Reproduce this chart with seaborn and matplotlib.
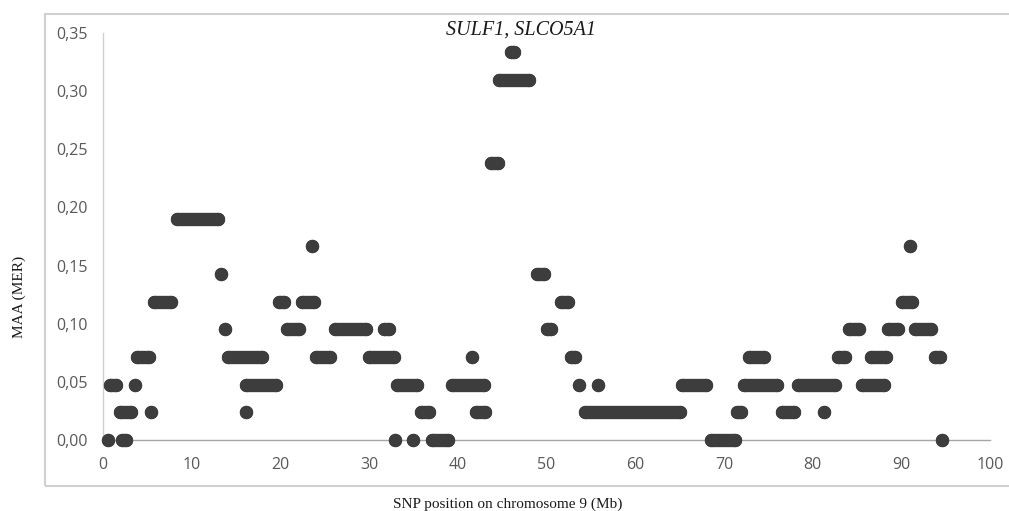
import numpy as np
import pandas as pd
import matplotlib
matplotlib.use('Agg')
import matplotlib.pyplot as plt
from matplotlib.patches import Rectangle
import seaborn as sns

# Haplotype blocks: start (Mb), end (Mb), MAA value
blk_start = [0.6, 2.1, 32.9, 34.9, 37.1, 68.5, 94.6,
             1.9, 5.4, 16.1, 35.8, 42.0, 54.3, 71.5, 76.5, 81.3,
             0.8, 3.6, 16.1, 33.2, 39.3, 53.7, 55.8, 65.3, 72.3, 78.3, 85.6,
             3.8, 14.1, 24.0, 30.0, 41.6, 52.8, 72.8, 82.9, 86.6, 93.8,
             13.7, 20.8, 26.1, 31.7, 50.1, 84.1, 88.5, 91.5,
             5.7, 19.8, 22.4, 51.6, 90.1,
             13.3, 48.9,
             23.6, 91.0,
             8.3,
             43.7,
             44.7,
             46.0]
blk_end = [0.6, 2.6, 32.9, 34.9, 38.9, 71.2, 94.6,
           3.2, 5.4, 16.1, 36.7, 43.1, 65.0, 71.9, 77.9, 81.3,
           1.5, 3.6, 19.5, 35.4, 42.9, 53.7, 55.8, 68.0, 76.0, 82.5, 88.0,
           5.2, 17.9, 25.6, 32.8, 41.6, 53.2, 74.5, 83.7, 88.3, 94.4,
           13.7, 22.1, 29.6, 32.2, 50.5, 85.2, 89.6, 93.4,
           7.7, 20.4, 23.8, 52.4, 91.2,
           13.3, 49.7,
           23.6, 91.0,
           13.0,
           44.5,
           48.0,
           46.3]
blk_maa = ([0.0] * 7 + [1 / 42] * 9 + [2 / 42] * 11 + [3 / 42] * 10 +
           [4 / 42] * 8 + [5 / 42] * 5 + [6 / 42] * 2 + [7 / 42] * 2 +
           [8 / 42] + [10 / 42] + [13 / 42] + [14 / 42])

yticks = [0.0, 0.05, 0.10, 0.15, 0.20, 0.25, 0.30, 0.35]
ytick_labels = ['0,00', '0,05', '0,10', '0,15', '0,20', '0,25', '0,30', '0,35']
xticks = [0, 10, 20, 30, 40, 50, 60, 70, 80, 90, 100]

# long table: two rows (start/end) per block
rows = []
for i, (s, e, m) in enumerate(zip(blk_start, blk_end, blk_maa)):
    rows.append({'block': i, 'pos': s, 'maa': m})
    rows.append({'block': i, 'pos': e, 'maa': m})
df = pd.DataFrame(rows)

sns.set_style('white')
plt.rcParams['font.family'] = ['Open Sans', 'DejaVu Sans']

dot_color = '#3d3d3d'
fig = plt.figure(figsize=(10.09, 5.11), dpi=100)
ax = fig.add_axes([103 / 1009, 1 - 440 / 511, 887 / 1009, 407 / 511])

sns.lineplot(data=df, x='pos', y='maa', units='block', estimator=None,
             color=dot_color, lw=9.6, solid_capstyle='round', ax=ax,
             legend=False, clip_on=False, zorder=3)
sns.scatterplot(data=df, x='pos', y='maa', color=dot_color, s=92,
                linewidth=0, ax=ax, legend=False, zorder=4, clip_on=False)

ax.set_xlim(0, 100)
ax.set_ylim(0, 0.35)
ax.set_xticks(xticks)
ax.set_xticklabels([str(t) for t in xticks])
ax.set_yticks(yticks)
ax.set_yticklabels(ytick_labels)
ax.tick_params(axis='both', length=0, labelsize=11.5, labelcolor='#595959')
ax.tick_params(axis='x', pad=12)
ax.tick_params(axis='y', pad=11)
ax.set_xlabel('')
ax.set_ylabel('')
for side in ['top', 'right']:
    ax.spines[side].set_visible(False)
ax.spines['left'].set_color('#d0d0d0')
ax.spines['left'].set_linewidth(1.0)
ax.spines['bottom'].set_color('#a6a6a6')
ax.spines['bottom'].set_linewidth(1.0)
ax.spines['bottom'].set_zorder(1)
ax.patch.set_alpha(0)

# chart frame
fig.patches.append(Rectangle((45 / 1009, 1 - 486 / 511), 1.0, 472 / 511,
                             transform=fig.transFigure, fill=False,
                             edgecolor='#d0d0d0', linewidth=1.5, zorder=0))

fig.text(521 / 1009, 1 - 30 / 511, 'SULF1, SLCO5A1', ha='center', va='center',
         family='Liberation Serif', style='italic', fontsize=14.5, color='#1a1a1a')
fig.text(508 / 1009, 1 - 504 / 511, 'SNP position on chromosome 9 (Mb)',
         ha='center', va='center', family='Liberation Serif', fontsize=11,
         color='#1a1a1a')
fig.text(19 / 1009, 1 - 297 / 511, 'MAA (MER)', ha='center', va='center',
         rotation=90, family='Liberation Serif', fontsize=11, color='#1a1a1a')

fig.savefig('out.png', dpi=100)
